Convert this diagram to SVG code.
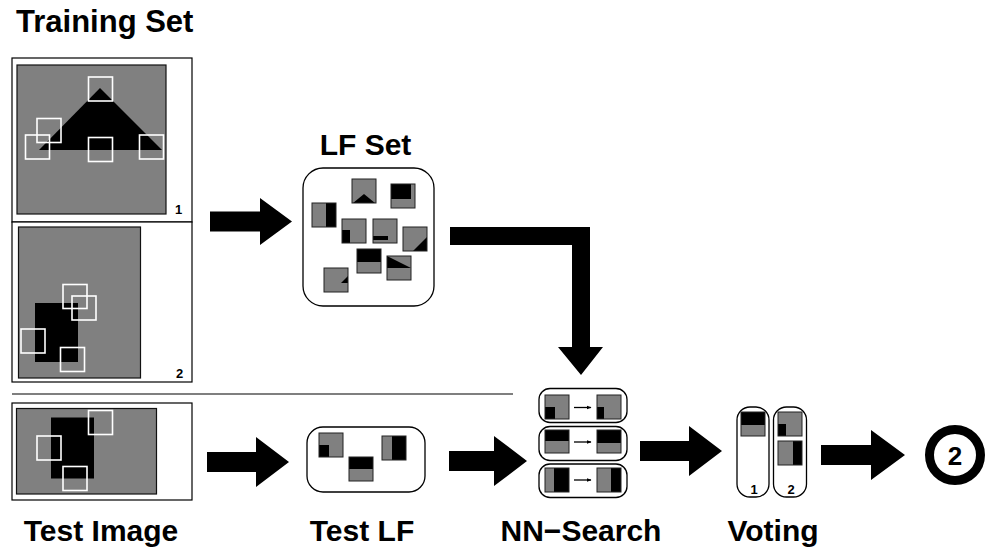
<svg xmlns="http://www.w3.org/2000/svg" width="986" height="554" viewBox="0 0 986 554">
<defs>
<style>
.t{font-family:"Liberation Sans",Arial,Helvetica,sans-serif;font-weight:bold;fill:#000}
.big{font-size:30px}
.sm{font-size:13px}
.g{fill:#808080}
.pb{fill:none;stroke:#222;stroke-width:1}
.b{fill:#000}
.w{fill:none;stroke:#fff;stroke-width:1.6}
.frame{fill:#fff;stroke:#000;stroke-width:1.2}
.rb{fill:#fff;stroke:#000;stroke-width:1.3}
.img{fill:#808080;stroke:#111;stroke-width:1.2}
</style>
<marker id="sa" viewBox="0 0 10 10" refX="9" refY="5" markerWidth="5" markerHeight="5" orient="auto" markerUnits="userSpaceOnUse">
<path d="M0,1 L10,5 L0,9 z" fill="#000"/>
</marker>
</defs>
<rect width="986" height="554" fill="#fff"/>

<g id="training-set">
<text class="t" x="16" y="32" font-size="31">Training Set</text>
<rect class="frame" x="12" y="58" width="180" height="164"/>
<rect class="frame" x="12" y="222" width="180" height="160"/>
<rect class="img" x="17" y="65" width="149" height="149"/>
<polygon class="b" points="39,150 100,88 162,150"/>
<rect class="w" x="88.5" y="77" width="24" height="24"/>
<rect class="w" x="37" y="118.5" width="24" height="24"/>
<rect class="w" x="25.5" y="135" width="24" height="24"/>
<rect class="w" x="88.5" y="137.5" width="24" height="24"/>
<rect class="w" x="139.5" y="135" width="24" height="24"/>
<text class="t sm" x="175" y="214">1</text>
<rect class="img" x="18.5" y="227" width="122" height="151"/>
<rect class="b" x="35" y="303" width="43" height="59"/>
<rect class="w" x="63" y="284.5" width="24" height="24"/>
<rect class="w" x="72" y="296" width="24" height="24"/>
<rect class="w" x="21" y="329" width="24" height="24"/>
<rect class="w" x="60.5" y="347.5" width="24" height="24"/>
<text class="t sm" x="176" y="378">2</text>
</g>

<g id="separator">
<line x1="12" y1="394" x2="513" y2="394" stroke="#000" stroke-width="1.2"/>
</g>

<g id="test-image">
<rect class="frame" x="12" y="403" width="180" height="97"/>
<rect class="img" x="16.5" y="408.5" width="140" height="85.5"/>
<rect class="b" x="51" y="417.5" width="43" height="61"/>
<rect class="w" x="88.5" y="410.5" width="24" height="24"/>
<rect class="w" x="37" y="436" width="24" height="24"/>
<rect class="w" x="63" y="466.5" width="24" height="24"/>
<text class="t big" x="101" y="541" text-anchor="middle">Test Image</text>
</g>

<g id="lf-set">
<text class="t big" x="365.5" y="155" text-anchor="middle">LF Set</text>
<rect class="rb" x="303" y="168" width="131" height="138" rx="20"/>
<rect class="g" x="312" y="203" width="24" height="24"/><rect class="b" x="326" y="203" width="10" height="24"/><rect class="pb" x="312" y="203" width="24" height="24"/>
<rect class="g" x="352" y="179" width="24" height="24"/><polygon class="b" points="353,203 364,194 375,203"/><rect class="pb" x="352" y="179" width="24" height="24"/>
<rect class="g" x="391" y="184" width="24" height="24"/><rect class="b" x="391" y="184" width="20" height="15"/><rect class="pb" x="391" y="184" width="24" height="24"/>
<rect class="g" x="342" y="219" width="24" height="24"/><rect class="b" x="342" y="230" width="8" height="13"/><rect class="pb" x="342" y="219" width="24" height="24"/>
<rect class="g" x="373" y="219" width="24" height="24"/><rect class="b" x="373" y="236" width="15" height="4"/><rect class="pb" x="373" y="219" width="24" height="24"/>
<rect class="g" x="403" y="227" width="24" height="24"/><polygon class="b" points="427,237 427,251 413,251"/><rect class="pb" x="403" y="227" width="24" height="24"/>
<rect class="g" x="357" y="249" width="24" height="24"/><rect class="b" x="357" y="249" width="24" height="13"/><rect class="pb" x="357" y="249" width="24" height="24"/>
<rect class="g" x="387" y="256" width="24" height="24"/><polygon class="b" points="387,256 411,268 387,268"/><rect class="pb" x="387" y="256" width="24" height="24"/>
<rect class="g" x="324" y="268" width="24" height="24"/><polygon class="b" points="348,276 341,283 348,283"/><rect class="pb" x="324" y="268" width="24" height="24"/>
</g>

<g id="test-lf">
<rect class="rb" x="307" y="427" width="118" height="65" rx="16"/>
<rect class="g" x="319" y="433" width="24" height="24"/><rect class="b" x="319" y="445" width="10" height="12"/><rect class="pb" x="319" y="433" width="24" height="24"/>
<rect class="g" x="349" y="457" width="24" height="24"/><rect class="b" x="349" y="457" width="24" height="12"/><rect class="pb" x="349" y="457" width="24" height="24"/>
<rect class="g" x="382" y="436" width="24" height="24"/><rect class="b" x="392" y="436" width="14" height="24"/><rect class="pb" x="382" y="436" width="24" height="24"/>
<text class="t big" x="362" y="541" text-anchor="middle">Test LF</text>
</g>

<g id="nn-search">
<rect class="rb" x="539" y="388.5" width="88" height="34" rx="11"/>
<rect class="rb" x="539" y="426.5" width="88" height="34" rx="11"/>
<rect class="rb" x="539" y="464" width="88" height="33.5" rx="11"/>
<rect class="g" x="545" y="395" width="24" height="24"/><rect class="b" x="545" y="407" width="10" height="12"/><rect class="pb" x="545" y="395" width="24" height="24"/>
<rect class="g" x="597" y="395" width="24" height="24"/><rect class="b" x="597" y="407" width="7" height="12"/><rect class="pb" x="597" y="395" width="24" height="24"/>
<rect class="g" x="545" y="430" width="24" height="23"/><rect class="b" x="545" y="430" width="24" height="11"/><rect class="pb" x="545" y="430" width="24" height="23"/>
<rect class="g" x="597" y="430" width="24" height="23"/><rect class="b" x="597" y="430" width="24" height="13"/><rect class="pb" x="597" y="430" width="24" height="23"/>
<rect class="g" x="545" y="468" width="24" height="24"/><rect class="b" x="554" y="468" width="15" height="24"/><rect class="pb" x="545" y="468" width="24" height="24"/>
<rect class="g" x="597" y="468" width="24" height="24"/><rect class="b" x="611" y="468" width="10" height="24"/><rect class="pb" x="597" y="468" width="24" height="24"/>
<g stroke="#000" stroke-width="1.3">
<line x1="574" y1="407.5" x2="591" y2="407.5" marker-end="url(#sa)"/>
<line x1="574" y1="442" x2="591" y2="442" marker-end="url(#sa)"/>
<line x1="574" y1="480" x2="591" y2="480" marker-end="url(#sa)"/>
</g>
<text class="t big" x="581" y="541" text-anchor="middle">NN−Search</text>
</g>

<g id="voting">
<rect class="rb" x="737" y="407" width="32" height="90" rx="13"/>
<rect class="rb" x="773.5" y="407" width="33" height="90" rx="13"/>
<rect class="g" x="741" y="412" width="24" height="24"/><rect class="b" x="741" y="412" width="24" height="13"/><rect class="pb" x="741" y="412" width="24" height="24"/>
<rect class="g" x="778" y="412" width="24" height="24"/><rect class="b" x="778" y="424" width="8" height="12"/><rect class="pb" x="778" y="412" width="24" height="24"/>
<rect class="g" x="778" y="441" width="24" height="24"/><rect class="b" x="793" y="441" width="9" height="24"/><rect class="pb" x="778" y="441" width="24" height="24"/>
<text class="t sm" x="754" y="494" text-anchor="middle">1</text>
<text class="t sm" x="791" y="494" text-anchor="middle">2</text>
<text class="t big" x="773" y="541" text-anchor="middle">Voting</text>
</g>

<g id="result">
<circle cx="955" cy="455" r="25.5" fill="#fff" stroke="#000" stroke-width="9"/>
<text class="t" x="955" y="464.5" font-size="26" text-anchor="middle">2</text>
</g>

<g id="connectors" fill="#000">
<polygon points="210,211.5 260,211.5 260,198 292,221.5 260,245 260,231.5 210,231.5"/>
<polygon points="207,452 256,452 256,437 289,462 256,487 256,472 207,472"/>
<polygon points="449,451 494,451 494,436 527,461 494,486 494,471 449,471"/>
<polygon points="640,441 689,441 689,426 722,451 689,476 689,461 640,461"/>
<polygon points="821,445 871,445 871,430 905,455 871,480 871,465 821,465"/>
<polygon points="450,227 590,227 590,347 603,347 581,375 558,347 572,347 572,245 450,245"/>
</g>
</svg>
